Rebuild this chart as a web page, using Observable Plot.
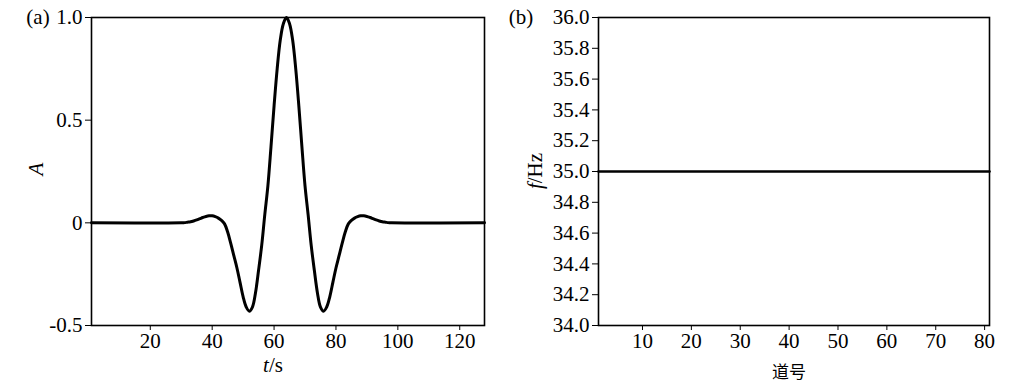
<!DOCTYPE html>
<html><head><meta charset="utf-8">
<script src="https://cdn.jsdelivr.net/npm/d3@7"></script>
<script src="https://cdn.jsdelivr.net/npm/@observablehq/plot@0.6"></script>
<style>
body{margin:0;background:#fff;width:1019px;height:384px;overflow:hidden;position:relative;font-family:"Liberation Serif",serif;}
.p{position:absolute;top:0;}
.lbl{position:absolute;font-size:21px;color:#000;white-space:nowrap;line-height:1;}
.c{transform:translate(-50%,-50%);}
.r{transform:translate(-50%,-50%) rotate(-90deg);}
</style></head><body>
<div id="a" class="p" style="left:0"></div>
<div id="b" class="p" style="left:500px"></div>
<script>
// Panel (a): wavelet amplitude vs time sample
const waveT = [1, 30, 31, 32, 33, 34, 35, 36, 37, 38, 39, 40, 41, 42, 43, 44, 45, 46, 47, 48, 49,
  50, 51, 52, 53, 54, 55, 56, 57, 58, 59, 60, 61, 62, 63, 64, 65, 66, 67, 68, 69,
  70, 71, 72, 73, 74, 75, 76, 77, 78, 79, 80, 81, 82, 83, 84, 85, 86, 87, 88, 89,
  90, 91, 92, 93, 94, 95, 96, 97, 98, 128];
const waveA = [0, 0, 0.001, 0.003, 0.005, 0.009, 0.014, 0.020, 0.026, 0.031, 0.034, 0.034, 0.030, 0.023, 0.012, -0.005,
  -0.045, -0.10, -0.16, -0.22, -0.29, -0.36, -0.41, -0.43, -0.41, -0.34, -0.23, -0.11, 0.04, 0.18, 0.37,
  0.57, 0.75, 0.89, 0.97, 1.00, 0.97, 0.89, 0.75, 0.57, 0.37, 0.18, 0.04, -0.11, -0.23, -0.34,
  -0.41, -0.43, -0.41, -0.36, -0.29, -0.22, -0.16, -0.10, -0.045, -0.005, 0.012, 0.023, 0.030, 0.034, 0.034,
  0.031, 0.026, 0.020, 0.014, 0.009, 0.005, 0.003, 0.001, 0, 0];
const aXTicks = [20, 40, 60, 80, 100, 120];
const aYTicks = [-0.5, 0, 0.5, 1.0];

// Panel (b): frequency vs trace number
const traceNo = [1, 81];
const freqHz = [35, 35];
const bXTicks = [10, 20, 30, 40, 50, 60, 70, 80];
const bYTicks = [34.0, 34.2, 34.4, 34.6, 34.8, 35.0, 35.2, 35.4, 35.6, 35.8, 36.0];

const waveData = waveT.map((t, i) => ({t, a: waveA[i]}));
const freqData = traceNo.map((n, i) => ({n, f: freqHz[i]}));

const FS = 21;
const baseStyle = {fontFamily: "Liberation Serif", fontSize: FS + "px", color: "#000", background: "transparent", overflow: "visible"};

const plotA = Plot.plot({
  width: 500, height: 384,
  marginLeft: 91, marginRight: 16, marginTop: 17, marginBottom: 59,
  style: baseStyle,
  x: {domain: [1, 128]},
  y: {domain: [-0.5, 1.0]},
  marks: [
    Plot.axisX({ticks: aXTicks, tickSize: 5, tickPadding: 3, label: null, fontSize: FS, tickFormat: d => String(d)}),
    Plot.axisY({ticks: aYTicks, tickSize: 6, tickPadding: 3, label: null, fontSize: FS,
      tickFormat: d => d === 0 ? "0" : d.toFixed(1).replace("\u2212", "-")}),
    Plot.line(waveData, {x: "t", y: "a", stroke: "#000", strokeWidth: 3, curve: "catmull-rom"}),
    Plot.frame({stroke: "#000", strokeWidth: 1.6})
  ]
});
document.getElementById("a").append(plotA);

const plotB = Plot.plot({
  width: 519, height: 384,
  marginLeft: 98, marginRight: 30, marginTop: 17, marginBottom: 59,
  style: baseStyle,
  x: {domain: [1, 81]},
  y: {domain: [34, 36]},
  marks: [
    Plot.axisX({ticks: bXTicks, tickSize: 5, tickPadding: 3, label: null, fontSize: FS, tickFormat: d => String(d)}),
    Plot.axisY({ticks: bYTicks, tickSize: 6, tickPadding: 3, label: null, fontSize: FS, tickFormat: d => d.toFixed(1)}),
    Plot.line(freqData, {x: "n", y: "f", stroke: "#000", strokeWidth: 2.6}),
    Plot.frame({stroke: "#000", strokeWidth: 1.6})
  ]
});
document.getElementById("b").append(plotB);

const labels = [
  {html: "(a)", x: 38, y: 17, cls: "c"},
  {html: "(b)", x: 521, y: 17, cls: "c"},
  {html: "<i>A</i>", x: 36, y: 169, cls: "r"},
  {html: "<i>t</i>/s", x: 273, y: 365, cls: "c"},
  {html: "<i>f</i>/Hz", x: 535, y: 171, cls: "r"},
  {html: "<span style='font-family:\"Noto Sans CJK SC\";font-size:17px'>道号</span>", x: 789, y: 371, cls: "c"}
];
for (const l of labels) {
  const d = document.createElement("div");
  d.className = "lbl " + l.cls;
  d.style.left = l.x + "px";
  d.style.top = l.y + "px";
  d.innerHTML = l.html;
  document.body.append(d);
}
</script>
</body></html>
